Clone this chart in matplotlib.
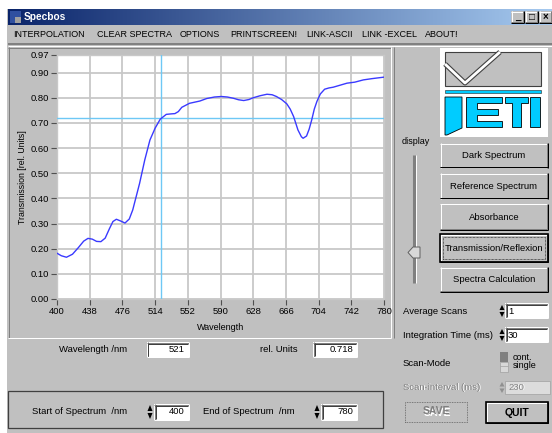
import matplotlib
matplotlib.use("Agg")
import matplotlib.pyplot as plt
import numpy as np
from matplotlib.patches import Rectangle, Polygon
from matplotlib.lines import Line2D

# ---------------- data ----------------
wavelength = [400, 405, 411, 418, 425, 431, 436, 441, 446, 451, 456, 461, 465, 469,
              474, 479, 484, 488, 492, 496, 502, 508, 514, 520, 527, 533, 537, 541,
              545, 554, 566, 574, 583, 591, 598, 605, 611, 617, 623, 628, 636, 644,
              650, 655, 661, 667, 671, 675, 680, 684, 686, 690, 693, 696, 699, 702,
              706, 711, 716, 721, 729, 737, 746, 756, 766, 773, 780]
transmission = [0.182, 0.172, 0.166, 0.178, 0.205, 0.230, 0.241, 0.238, 0.229, 0.228,
                0.242, 0.280, 0.308, 0.317, 0.310, 0.302, 0.318, 0.354, 0.407, 0.460,
                0.553, 0.632, 0.679, 0.715, 0.734, 0.736, 0.737, 0.745, 0.762, 0.778,
                0.787, 0.797, 0.803, 0.805, 0.803, 0.798, 0.792, 0.789, 0.793, 0.800,
                0.808, 0.814, 0.812, 0.805, 0.793, 0.776, 0.755, 0.725, 0.672, 0.645,
                0.639, 0.648, 0.675, 0.712, 0.755, 0.785, 0.815, 0.834, 0.839, 0.842,
                0.850, 0.858, 0.862, 0.871, 0.876, 0.879, 0.882]
x_ticks = [400, 438, 476, 514, 552, 590, 628, 666, 704, 742, 780]
y_ticks = [0.00, 0.10, 0.20, 0.30, 0.40, 0.50, 0.60, 0.70, 0.80, 0.90, 0.97]
y_tick_labels = ["0.00", "0.10", "0.20", "0.30", "0.40", "0.50", "0.60", "0.70", "0.80", "0.90", "0.97"]
cursor_wavelength = 521
cursor_value = 0.718
menu_items = ["INTERPOLATION", "CLEAR SPECTRA", "OPTIONS", "PRINTSCREEN!", "LINK-ASCII", "LINK -EXCEL", "ABOUT!"]
button_labels = ["Dark Spectrum", "Reference Spectrum", "Absorbance", "Transmission/Reflexion", "Spectra Calculation"]
start_nm, end_nm = 400, 780
average_scans, integration_ms, scan_interval = 1, 30, 230

# ---------------- helpers ----------------
W, H = 552, 433
FONT = "Liberation Sans"
plt.rcParams["font.family"] = [FONT, "DejaVu Sans"]
fig = plt.figure(figsize=(W / 100, H / 100), dpi=100)
fig.patch.set_facecolor("#c0c0c0")
PX = 0.72

def fx(x): return x / W
def fy(y): return 1 - y / H

def rect(x0, y0, x1, y1, fc, ec="none", lw=0, z=1, ls="-"):
    fig.patches.append(Rectangle((fx(x0), fy(y1)), (x1 - x0) / W, (y1 - y0) / H,
                                 transform=fig.transFigure, facecolor=fc, edgecolor=ec,
                                 lw=lw, zorder=z, linestyle=ls))

def line(xs, ys, color, lw=PX, z=2, ls="-"):
    fig.lines.append(Line2D([fx(x) for x in xs], [fy(y) for y in ys], transform=fig.transFigure,
                            color=color, lw=lw, zorder=z, linestyle=ls, solid_capstyle="butt"))

def poly(pts, fc, ec="none", lw=0, z=2):
    fig.patches.append(Polygon([(fx(x), fy(y)) for x, y in pts], closed=True, transform=fig.transFigure,
                               facecolor=fc, edgecolor=ec, lw=lw, zorder=z))

def txt(x, y, s, size=7, ha="left", va="center", color="black", weight="normal", z=3, **kw):
    fig.text(fx(x), fy(y), s, fontsize=size, ha=ha, va=va, color=color, weight=weight, zorder=z, **kw)

def raised(x0, y0, x1, y1, z=2, dark_outline=False):
    rect(x0, y0, x1, y1, "#c0c0c0", z=z)
    line([x0, x1], [y0 + 0.5, y0 + 0.5], "white", z=z + 0.1)
    line([x0 + 0.5, x0 + 0.5], [y0, y1], "white", z=z + 0.1)
    line([x0, x1], [y1 - 1.5, y1 - 1.5], "#808080", z=z + 0.1)
    line([x1 - 1.5, x1 - 1.5], [y0, y1], "#808080", z=z + 0.1)
    line([x0, x1], [y1 - 0.5, y1 - 0.5], "black", z=z + 0.1)
    line([x1 - 0.5, x1 - 0.5], [y0, y1], "black", z=z + 0.1)
    if dark_outline:
        rect(x0, y0, x1, y1, "none", ec="black", lw=1.2, z=z + 0.2)

def sunken(x0, y0, x1, y1, fc="white", z=2):
    rect(x0, y0, x1, y1, fc, z=z)
    line([x0, x1], [y0 + 0.5, y0 + 0.5], "#808080", z=z + 0.1)
    line([x0 + 0.5, x0 + 0.5], [y0, y1], "#808080", z=z + 0.1)
    line([x0 + 1, x1 - 1], [y0 + 1.5, y0 + 1.5], "#404040", z=z + 0.1)
    line([x0 + 1.5, x0 + 1.5], [y0 + 1, y1 - 1], "#404040", z=z + 0.1)
    line([x0, x1], [y1 - 0.5, y1 - 0.5], "white", z=z + 0.1)
    line([x1 - 0.5, x1 - 0.5], [y0, y1], "white", z=z + 0.1)

def spinner(x0, y0, x1, y1, color="black", z=3):
    rect(x0, y0, x1, y1, "#c0c0c0", z=z)
    ym = (y0 + y1) / 2
    cx = (x0 + x1) / 2
    poly([(cx - 2.5, ym - 1), (cx + 2.5, ym - 1), (cx, y0 + 1)], color, z=z + 0.1)
    poly([(cx - 2.5, ym + 1), (cx + 2.5, ym + 1), (cx, y1 - 1)], color, z=z + 0.1)

# ---------------- window chrome ----------------
rect(0, 0, W, 9, "white", z=1)
rect(0, 0, 7, H, "white", z=1)
tb = fig.add_axes([fx(8), fy(25), (W - 8) / W, 16 / H])
grad = np.linspace(0, 1, 256)[None, :, None]
c0 = np.array([10, 36, 106]) / 255
c1 = np.array([166, 202, 240]) / 255
tb.imshow(c0 + (c1 - c0) * grad, aspect="auto", extent=[0, 1, 0, 1])
tb.set_axis_off()
tb.set_zorder(2)
rect(10, 11, 21, 23, "#3050a0", z=3)
rect(15, 17, 21, 23, "#a0a0a0", z=3.1)
txt(24, 17, "Specbos", size=7.3, color="white", weight="bold", z=4)
for bx, glyph in [(511, "_"), (525, "□"), (539, "×")]:
    raised(bx, 11, bx + 13, 23, z=4)
    txt(bx + 6.5, 17, glyph, size=7, ha="center", z=5, weight="bold")

menu_x = [13, 97, 180, 230, 306, 362, 425]
for mx, m in zip(menu_x, menu_items):
    txt(mx, 34.5, m, size=6.5, z=3)
line([8, W], [44, 44], "#808080", lw=1.4, z=2)
line([8, W], [45.5, 45.5], "white", z=2)

# chart panel
rect(8, 47, 391, 338, "#c0c0c0", z=1.5)
line([8, 391], [47.5, 47.5], "#808080", z=1.6)
line([8.5, 8.5], [47, 338], "#808080", z=1.6)
line([8, 391], [337.5, 337.5], "white", z=1.6)
line([390.5, 390.5], [47, 338], "white", z=1.6)
line([394, 394], [47, 338], "#808080", z=1.6)

# ---------------- the chart ----------------
ax = fig.add_axes([fx(57), fy(299), 327 / W, 244 / H])
ax.set_zorder(5)
ax.set_facecolor("white")
ax.set_xlim(400, 780)
ax.set_ylim(0, 0.97)
ax.set_xticks(x_ticks)
ax.set_yticks(y_ticks)
ax.set_yticklabels(y_tick_labels)
ax.grid(True, color="#c8c8c8", lw=1.3)
ax.set_axisbelow(True)
for s in ax.spines.values():
    s.set_color("#c8c8c8")
    s.set_linewidth(1.0)
ax.tick_params(axis="both", direction="out", length=4, width=0.8, color="#505050",
               labelsize=6.8, labelcolor="black", pad=1.5)
ax.axvline(cursor_wavelength, color="#6ec8f5", lw=1.0, zorder=3)
ax.axhline(cursor_value, color="#6ec8f5", lw=1.0, zorder=3)
ax.plot(wavelength, transmission, color="#3a3aff", lw=1.0, zorder=4)
ax.set_xlabel("Wavelength", fontsize=6.5, labelpad=5)
ax.set_ylabel("Transmission [rel. Units]", fontsize=6.3, labelpad=3)

# readouts
txt(59, 349.5, "Wavelength /nm", size=6.8)
sunken(147, 342, 189, 357)
txt(185, 349.5, str(cursor_wavelength), size=6.8, ha="right", z=4)
txt(260, 349.5, "rel. Units", size=6.8)
sunken(313, 342, 357, 357)
txt(353, 349.5, f"{cursor_value:.3f}", size=6.8, ha="right", z=4)

# bottom frame
rect(8, 391, 383, 428, "none", ec="#404040", lw=0.9, z=2)
txt(32, 412, "Start of Spectrum  /nm", size=6.8)
spinner(147, 404, 153, 420)
sunken(154, 404, 189, 420)
txt(185, 412, str(start_nm), size=6.8, ha="right", z=4)
txt(203, 412, "End of Spectrum  /nm", size=6.8)
spinner(314, 404, 320, 420)
sunken(321, 404, 357, 420)
txt(353, 412, str(end_nm), size=6.8, ha="right", z=4)

# ---------------- right panel ----------------
# JETI logo
rect(440, 48, 548, 137, "white", z=2)
rect(445, 52, 541, 86, "#c0c0c0", ec="#404040", lw=0.8, z=2.1)
line([445, 465, 500], [64, 83, 52], "#404040", lw=3.6, z=2.2)
line([445, 465, 500], [64, 83, 52], "white", lw=2.0, z=2.3)
rect(445, 90, 541, 93, "#00ccff", ec="#202020", lw=0.4, z=2.2)
cy = "#00ccff"
poly([(445, 97), (462, 97), (462, 128), (447, 135), (445, 135)], cy, ec="black", lw=0.6, z=2.2)
poly([(466, 97), (502, 97), (502, 103), (477, 103), (477, 109), (498, 109), (498, 115), (477, 115),
      (477, 121), (502, 121), (502, 127), (466, 127)], cy, ec="black", lw=0.6, z=2.2)
poly([(505, 97), (528, 97), (528, 103), (521, 103), (521, 127), (512, 127), (512, 103), (505, 103)],
     cy, ec="black", lw=0.6, z=2.2)
poly([(530, 97), (540, 97), (540, 127), (530, 127)], cy, ec="black", lw=0.6, z=2.2)

# display slider
txt(402, 142, "display", size=6.5)
line([414, 414], [155, 283], "#808080", lw=2.2, z=2)
line([415.8, 415.8], [155, 283], "white", lw=0.7, z=2.1)
poly([(408, 252.5), (413, 247), (420, 247), (420, 258), (413, 258)], "#d8d8d8", ec="#606060", lw=0.7, z=3)

# buttons
btn_y = [(143, 168), (173, 199), (204, 230), (234, 262), (267, 292)]
for (y0, y1), lab in zip(btn_y, button_labels):
    focused = lab.startswith("Transmission")
    raised(440, y0, 548, y1, z=2, dark_outline=focused)
    if focused:
        rect(443, y0 + 3, 545, y1 - 3, "none", ec="black", lw=0.5, z=2.5, ls=(0, (1, 1)))
    txt(494, (y0 + y1) / 2 + 0.5, lab, size=6.8, ha="center", z=3)

# settings
txt(403, 311, "Average Scans", size=6.8)
spinner(499, 304, 505, 318)
sunken(505, 303, 548, 318)
txt(508, 311, str(average_scans), size=6.8, z=4)
txt(403, 335, "Integration Time (ms)", size=6.8)
spinner(499, 328, 505, 342)
sunken(505, 327, 548, 342)
txt(508, 335, str(integration_ms), size=6.8, z=4)
txt(403, 363, "Scan-Mode", size=6.8)
rect(500, 352, 508, 362, "#808080", z=2)
rect(500, 362, 508, 372, "#d8d8d8", ec="#a0a0a0", lw=0.5, z=2)
line([500, 508], [366, 366], "#a0a0a0", lw=0.5, z=2.1)
txt(513, 357, "cont.", size=6.5)
txt(513, 365.5, "single", size=6.5)
txt(404, 388, "Scan-interval (ms)", size=6.8, color="white", z=3)
txt(403, 387, "Scan-interval (ms)", size=6.8, color="#808080", z=3.1)
spinner(499, 381, 505, 394, color="#909090")
rect(505, 381, 550, 394, "#dcdcdc", ec="#a0a0a0", lw=0.5, z=2)
txt(509, 388, str(scan_interval), size=6.8, color="white", z=3)
txt(508, 387.5, str(scan_interval), size=6.8, color="#808080", z=3.1)

# SAVE / QUIT
rect(405, 402, 467, 422, "none", ec="#606060", lw=0.6, z=2, ls=(0, (1, 1)))
txt(437, 412.5, "SAVE", size=7.5, weight="bold", ha="center", color="white", z=3)
txt(436, 411.5, "SAVE", size=7.5, weight="bold", ha="center", color="#808080", z=3.1)
raised(486, 402, 548, 423, z=2, dark_outline=True)
txt(517, 412.5, "QUIT", size=7.5, weight="bold", ha="center", z=3)

fig.savefig("out.png", dpi=100, facecolor=fig.get_facecolor())
